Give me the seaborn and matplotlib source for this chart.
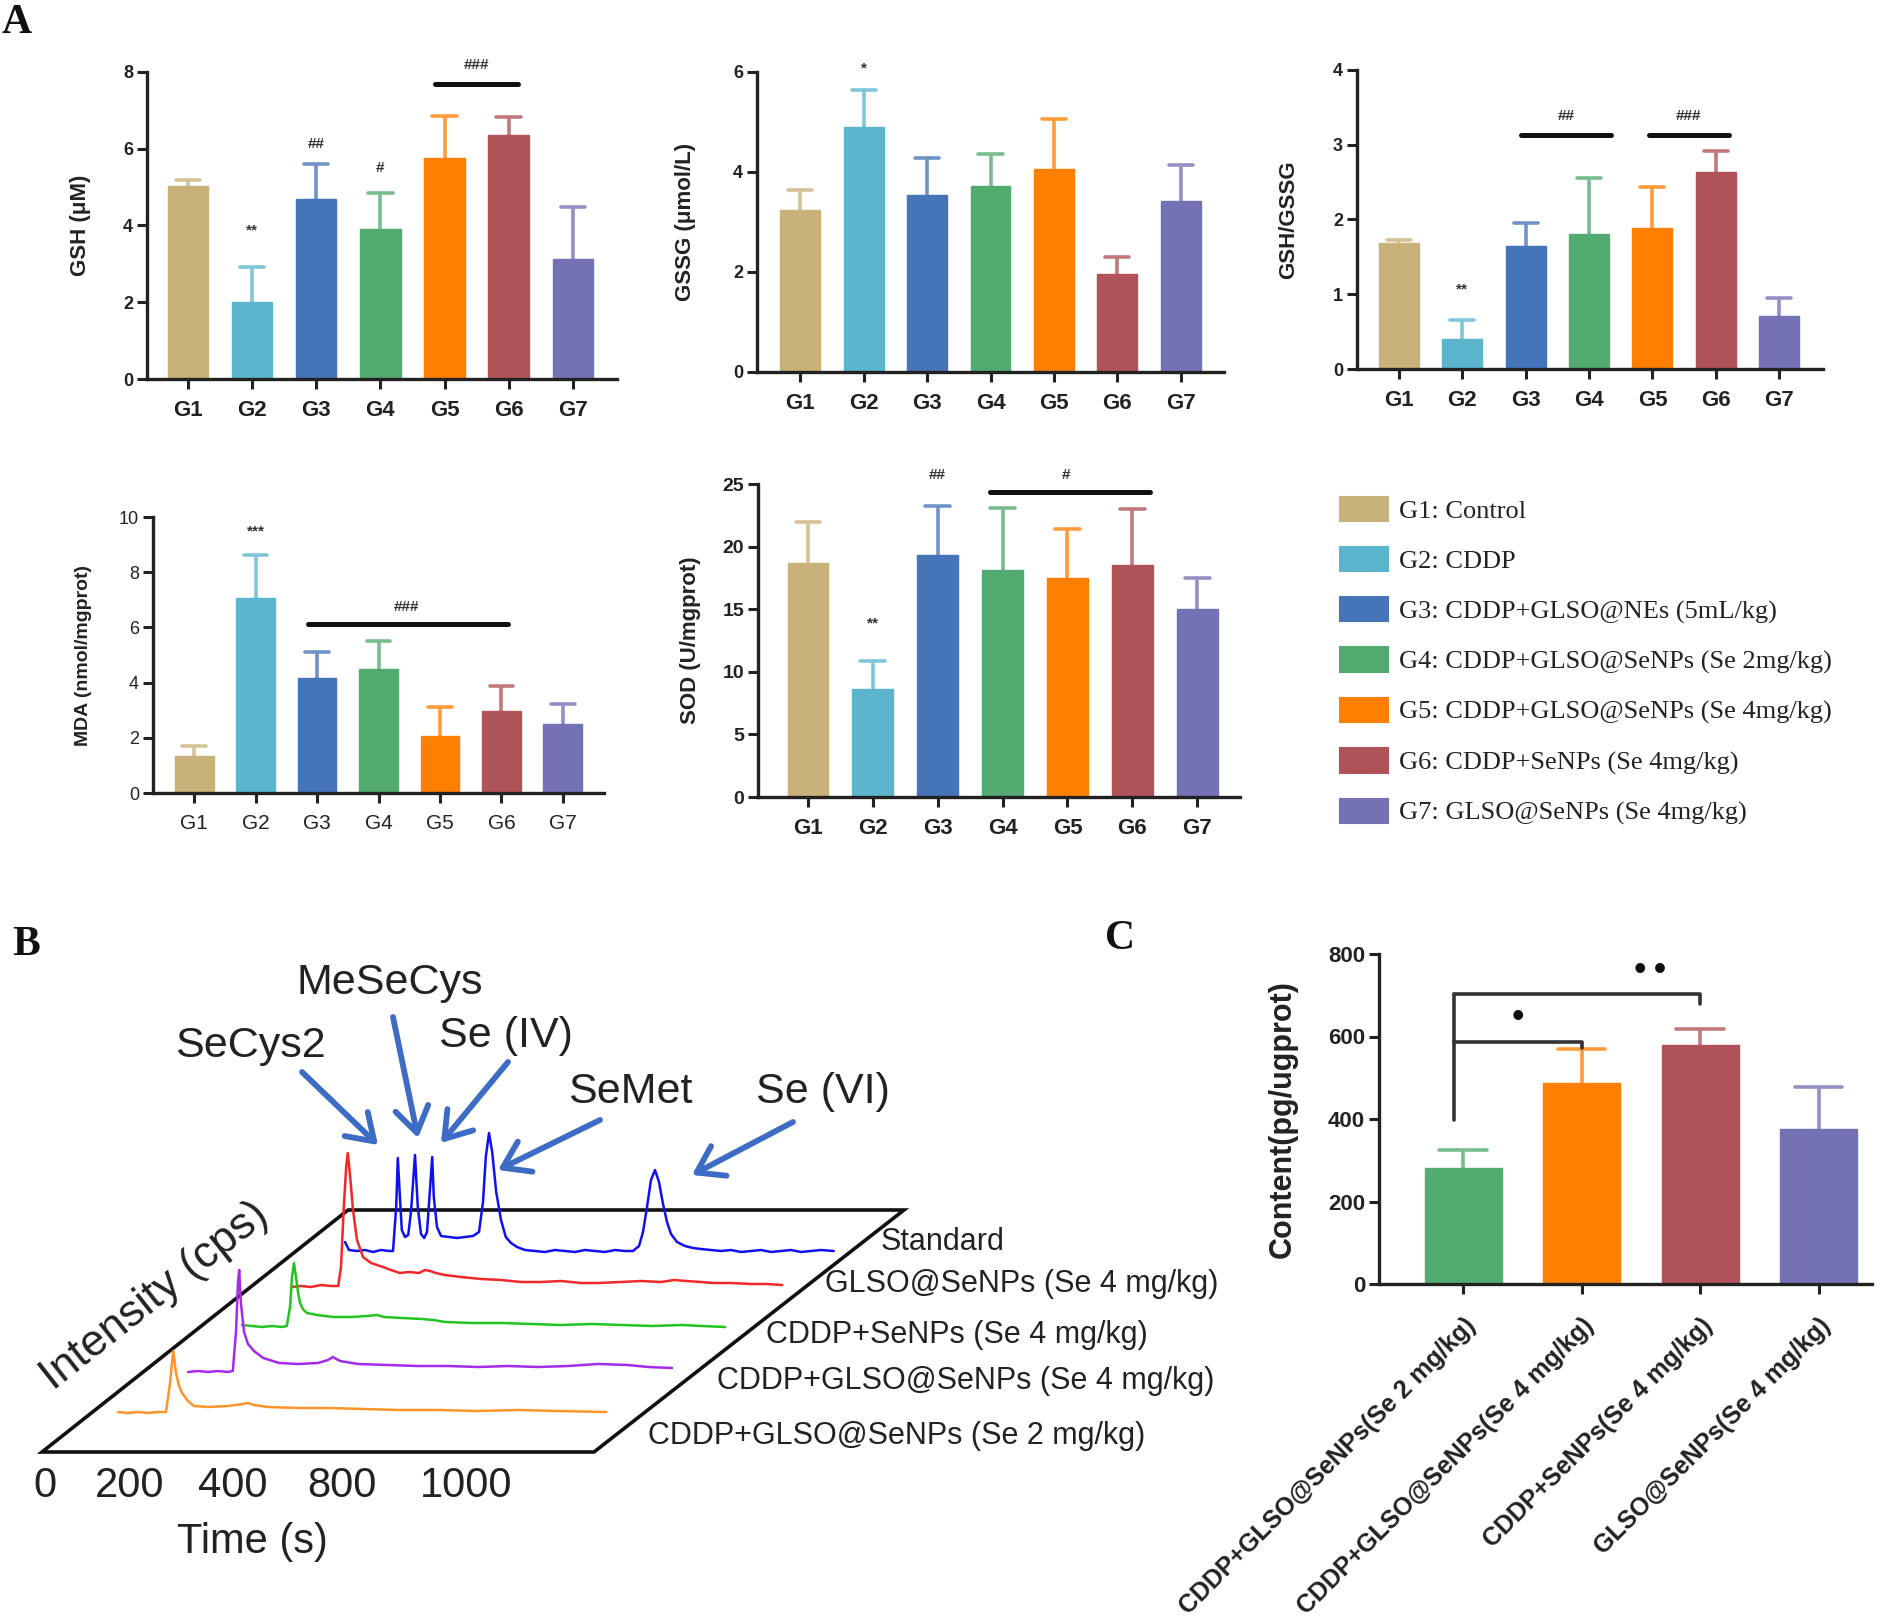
import numpy as np
import pandas as pd
import matplotlib
matplotlib.use("Agg")
import matplotlib.pyplot as plt
import seaborn as sns
from matplotlib.patches import Patch, Polygon
from matplotlib.colors import to_rgb

sns.set_theme(style="ticks")
plt.rcParams["font.family"] = ["Liberation Sans", "DejaVu Sans"]

# ------------------------------------------------------------------ data
groups = ["G1", "G2", "G3", "G4", "G5", "G6", "G7"]
group_colors = ["#C8B27A", "#5BB6CD", "#4575B8", "#52AB70", "#FF7F00", "#B05358", "#7571B5"]
legend_labels = ["G1: Control", "G2: CDDP", "G3: CDDP+GLSO@NEs (5mL/kg)",
                 "G4: CDDP+GLSO@SeNPs (Se 2mg/kg)", "G5: CDDP+GLSO@SeNPs (Se 4mg/kg)",
                 "G6: CDDP+SeNPs (Se 4mg/kg)", "G7: GLSO@SeNPs (Se 4mg/kg)"]

gsh_mean = [5.02, 2.01, 4.69, 3.90, 5.76, 6.35, 3.14]
gsh_sd = [0.16, 0.91, 0.90, 0.95, 1.09, 0.48, 1.33]
gssg_mean = [3.24, 4.90, 3.53, 3.71, 4.05, 1.96, 3.41]
gssg_sd = [0.39, 0.74, 0.74, 0.64, 1.00, 0.33, 0.72]
ratio_mean = [1.68, 0.40, 1.65, 1.81, 1.88, 2.63, 0.71]
ratio_sd = [0.05, 0.25, 0.30, 0.75, 0.55, 0.28, 0.24]
mda_mean = [1.33, 7.07, 4.16, 4.49, 2.05, 2.98, 2.49]
mda_sd = [0.36, 1.54, 0.94, 1.02, 1.05, 0.91, 0.73]
sod_mean = [18.68, 8.59, 19.34, 18.14, 17.53, 18.54, 15.02]
sod_sd = [3.32, 2.31, 3.93, 4.94, 3.89, 4.46, 2.46]

c_labels = ["CDDP+GLSO@SeNPs(Se 2 mg/kg)", "CDDP+GLSO@SeNPs(Se 4 mg/kg)",
            "CDDP+SeNPs(Se 4 mg/kg)", "GLSO@SeNPs(Se 4 mg/kg)"]
c_colors = ["#52AB70", "#FF7F00", "#B05358", "#7571B5"]
c_mean = [281, 488, 580, 376]
c_sd = [43, 81, 39, 101]

# chromatograms (time in s, intensity in cps)
trace_names = ["Standard", "GLSO@SeNPs (Se 4 mg/kg)", "CDDP+SeNPs (Se 4 mg/kg)",
               "CDDP+GLSO@SeNPs (Se 4 mg/kg)", "CDDP+GLSO@SeNPs (Se 2 mg/kg)"]
trace_colors = ["#1010F0", "#F02828", "#22C422", "#A52BE8", "#FF9428"]
std_time = [0, 10, 30, 50, 70, 90, 110, 120, 128, 132, 138, 142, 150, 158, 165, 175, 182, 190, 198, 205,
            212, 218, 222, 230, 240, 260, 280, 300, 320, 335, 345, 352, 360, 368, 378, 390, 402, 415, 430, 450,
            475, 500, 525, 550, 575, 600, 625, 650, 675, 700, 720, 735, 745, 755, 765, 775, 785, 795, 805, 815,
            830, 850, 870, 890, 915, 940, 965, 990, 1015, 1040, 1065, 1090, 1115, 1140, 1165, 1190, 1222]
std_cps = [1000, 200, 100, 200, 0, 200, 100, 100, 4500, 9400, 5000, 2200, 1500, 1700, 4000, 9700, 4500, 1800, 1400, 2000,
           6000, 9500, 5500, 2500, 1600, 1500, 1400, 1500, 1600, 2000, 5000, 9500, 11900, 10000, 6000, 3200, 1500, 900, 500, 200,
           100, 0, 200, 100, 0, 200, 100, 0, 200, 100, 100, 600, 2000, 4500, 7200, 8200, 7000, 4800, 3000, 1800,
           1000, 600, 400, 300, 200, 100, 200, 0, 100, 200, 0, 100, 200, 0, 100, 200, 100]
g7_time = [0, 25, 50, 75, 100, 118, 125, 132, 138, 142, 148, 155, 165, 180, 200, 230, 250, 272, 295, 320,
           335, 348, 362, 385, 425, 475, 525, 575, 625, 675, 725, 768, 825, 875, 925, 958, 988, 1025, 1055, 1100,
           1150, 1188, 1228]
g7_cps = [0, 100, 0, 200, 100, 100, 2000, 8000, 12000, 13400, 11000, 7700, 4700, 3000, 2400, 2000, 1700, 1400, 1500, 1400,
          1700, 1600, 1400, 1200, 1000, 800, 700, 500, 500, 600, 400, 400, 500, 600, 500, 700, 600, 500, 400, 400,
          300, 300, 200]
g6_time = [0, 25, 50, 75, 100, 112, 120, 125, 130, 135, 140, 145, 152, 162, 188, 228, 275, 312, 338, 355,
           400, 450, 478, 508, 575, 650, 725, 795, 875, 950, 1025, 1100, 1150, 1208]
g6_cps = [200, 100, 0, 100, 0, 100, 2000, 5000, 6400, 5000, 3500, 2400, 1800, 1400, 1200, 1000, 1000, 1100, 1200, 1000,
          900, 800, 700, 500, 400, 400, 300, 200, 300, 200, 100, 200, 100, 0]
g5_time = [0, 25, 50, 75, 100, 112, 120, 125, 128, 132, 140, 150, 165, 188, 228, 275, 325, 350, 362, 380,
           425, 500, 575, 650, 725, 800, 875, 950, 1025, 1100, 1150, 1210]
g5_cps = [0, 100, 0, 100, 0, 100, 4000, 9000, 10200, 7000, 4000, 2800, 2100, 1400, 900, 800, 900, 1200, 1500, 1100,
          800, 700, 600, 600, 500, 600, 500, 600, 800, 700, 500, 400]
g4_time = [0, 25, 50, 75, 100, 120, 130, 138, 145, 152, 160, 175, 190, 225, 275, 312, 325, 340, 375, 450,
           525, 615, 700, 800, 900, 1000, 1100, 1220]
g4_cps = [100, 0, 100, 0, 100, 100, 3000, 6200, 4000, 2800, 2000, 1200, 700, 600, 700, 900, 1000, 800, 600, 500,
          500, 400, 300, 300, 200, 300, 200, 100]
trace_times = [std_time, g7_time, g6_time, g5_time, g4_time]
trace_cps = [std_cps, g7_cps, g6_cps, g5_cps, g4_cps]
peak_names = ["SeCys2", "MeSeCys", "Se (IV)", "SeMet", "Se (VI)"]
time_ticks = ["0", "200", "400", "800", "1000"]

# ------------------------------------------------------------------ figure
W, H = 1900, 1617
fig = plt.figure(figsize=(19, 16.17), dpi=100)


def px_axes(x0, y0, x1, y1, **kw):
    return fig.add_axes([x0 / W, 1 - y1 / H, (x1 - x0) / W, (y1 - y0) / H], **kw)


def lighten(c, f=0.22):
    r, g, b = to_rgb(c)
    return (r + (1 - r) * f, g + (1 - g) * f, b + (1 - b) * f)


def bar_panel(ax, cats, means, sds, cols, ylim, yticks, ylabel, xlim, label_x,
              tick_fs=16, ytick_fs=13, ylab_fs=16, weight="bold", cap=0.19, width=0.63):
    df = pd.DataFrame({"g": cats, "v": means})
    sns.barplot(data=df, x="g", y="v", hue="g", palette=dict(zip(cats, cols)), legend=False,
                width=width, saturation=1, ax=ax, linewidth=1.0, zorder=2)
    for p, c in zip(ax.patches, cols):
        p.set_edgecolor(c)
    for i, (m, s, c) in enumerate(zip(means, sds, cols)):
        ec = lighten(c)
        ax.plot([i, i], [m, m + s], color=ec, lw=2.6, zorder=1, solid_capstyle="butt")
        ax.plot([i - cap, i + cap], [m + s, m + s], color=ec, lw=2.6, zorder=1)
    ax.set_xlim(xlim)
    ax.set_ylim(ylim)
    ax.set_yticks(yticks)
    ax.set_xlabel("")
    ax.set_ylabel(ylabel, fontsize=ylab_fs, fontweight="bold", color="#222")
    ax.yaxis.set_label_coords(label_x, 0.5)
    sns.despine(ax=ax)
    for sp in ("left", "bottom"):
        ax.spines[sp].set_linewidth(2.4)
        ax.spines[sp].set_color("#222")
    ax.tick_params(axis="both", width=2.2, length=7, color="#222")
    ax.tick_params(axis="x", labelsize=tick_fs, pad=8)
    ax.tick_params(axis="y", labelsize=ytick_fs, pad=3)
    for t in ax.get_xticklabels() + ax.get_yticklabels():
        t.set_fontweight(weight)
        t.set_color("#222")
    ax.patch.set_alpha(0)


def sig_line(ax, x0, x1, y, txt, ty, tx=None, fs=11):
    ax.plot([x0, x1], [y, y], color="#111", lw=3.6, zorder=3)
    ax.text((x0 + x1) / 2 if tx is None else tx, ty, txt, ha="center", va="center",
            fontsize=fs, fontweight="bold", color="#333")


def sig_text(ax, x, y, txt, fs=11):
    ax.text(x, y, txt, ha="center", va="center", fontsize=fs, fontweight="bold", color="#333")


# ---------------- panel B (pixel canvas)
axb = fig.add_axes([0, 0, 1, 1])
plane = Polygon([(42, 1452), (594, 1452), (904, 1210), (348, 1210)], closed=True,
                fill=False, edgecolor="#111", lw=2.6, zorder=1)
axb.add_patch(plane)

trace_origin = [(345, 1252), (291, 1287), (242, 1327), (188, 1372), (118, 1413)]
PX_PER_S = 0.4
PX_PER_CPS = 0.01
for tt, cc, col, (ox, oy) in zip(trace_times, trace_cps, trace_colors, trace_origin):
    xs = ox + np.asarray(tt) * PX_PER_S
    ys = oy - np.asarray(cc) * PX_PER_CPS
    sns.lineplot(x=xs, y=ys, sort=False, estimator=None, color=col, lw=1.8, ax=axb, zorder=2)
axb.set_xlim(0, W)
axb.set_ylim(H, 0)
axb.axis("off")

label_pos = [(881, 1242), (825, 1284), (766, 1335), (717, 1381), (648, 1436)]
for name, (lx, ly) in zip(trace_names, label_pos):
    axb.text(lx, ly, name, ha="left", va="center", fontsize=22, color="#222")

peak_label_pos = [(250, 1057), (390, 994), (506, 1047), (630, 1103), (823, 1103)]
for name, (lx, ly) in zip(peak_names, peak_label_pos):
    axb.text(lx, ly, name, ha="center", va="baseline", fontsize=31, color="#222")

arrows = [((302, 1072), (378, 1145)), ((393, 1017), (418, 1138)), ((508, 1062), (441, 1143)),
          ((600, 1120), (498, 1170)), ((793, 1122), (692, 1175))]
for tail, tip in arrows:
    axb.annotate("", xy=tip, xytext=tail,
                 arrowprops=dict(arrowstyle="->,head_length=0.45,head_width=0.3", lw=4.2,
                                 color="#3D6CC4", shrinkA=0, shrinkB=0, mutation_scale=40))

tick_px = [45, 130, 233, 342, 466]
for lab, tx in zip(time_ticks, tick_px):
    axb.text(tx, 1486, lab, ha="center", va="center", fontsize=30, color="#222")
axb.text(252, 1542, "Time (s)", ha="center", va="center", fontsize=30, color="#222")
axb.text(155, 1296, "Intensity (cps)", ha="center", va="center", fontsize=32, color="#222",
         rotation=38.3, rotation_mode="anchor")

# panel letters
for letter, (lx, ly) in zip(["A", "B", "C"], [(2, 4), (12, 926), (1105, 920)]):
    axb.text(lx, ly, letter, ha="left", va="top", fontsize=30, fontweight="bold",
             family=["Liberation Serif", "DejaVu Serif"], color="#111")

# ---------------- panel A
ax1 = px_axes(147, 72, 617, 379)
bar_panel(ax1, groups, gsh_mean, gsh_sd, group_colors, (0, 8), [0, 2, 4, 6, 8], "GSH (\u03bcM)",
          (-0.64, 6.69), -0.12)
sig_text(ax1, 1, 3.88, "**")
sig_text(ax1, 2, 6.12, "##")
sig_text(ax1, 3, 5.5, "#")
sig_line(ax1, 3.85, 5.14, 7.7, "###", 8.17)

ax2 = px_axes(757, 72, 1224, 372)
bar_panel(ax2, groups, gssg_mean, gssg_sd, group_colors, (0, 6), [0, 2, 4, 6], "GSSG (\u03bcmol/L)",
          (-0.68, 6.68), -0.13)
sig_text(ax2, 1, 6.07, "*")

ax3 = px_axes(1357, 70, 1823, 369)
bar_panel(ax3, groups, ratio_mean, ratio_sd, group_colors, (0, 4), [0, 1, 2, 3, 4], "GSH/GSSG",
          (-0.66, 6.69), -0.125)
sig_text(ax3, 1, 1.07, "**")
sig_line(ax3, 1.93, 3.34, 3.13, "##", 3.38)
sig_line(ax3, 3.94, 5.21, 3.13, "###", 3.38)

ax4 = px_axes(153, 517, 604, 793)
bar_panel(ax4, groups, mda_mean, mda_sd, group_colors, (0, 10), [0, 2, 4, 6, 8, 10],
          "MDA (nmol/mgprot)", (-0.67, 6.67), -0.135, tick_fs=15, ytick_fs=13, ylab_fs=14,
          weight="normal")
sig_text(ax4, 1, 9.46, "***")
sig_line(ax4, 1.85, 5.11, 6.14, "###", 6.75, tx=3.45)

ax5 = px_axes(758, 484, 1240, 797)
bar_panel(ax5, groups, sod_mean, sod_sd, group_colors, (0, 25), [0, 5, 10, 15, 20, 25],
          "SOD (U/mgprot)", (-0.77, 6.66), -0.118, ytick_fs=14)
sig_text(ax5, 1, 13.9, "**")
sig_text(ax5, 2, 25.7, "##")
sig_line(ax5, 2.8, 5.28, 24.33, "#", 25.7, tx=3.98)

handles = [Patch(facecolor=c, edgecolor=c, linewidth=1.5) for c in group_colors]
fig.legend(handles, legend_labels, loc="upper left", bbox_to_anchor=(1340 / W, 1 - 497 / H),
           frameon=False, prop={"family": "Liberation Serif", "size": 19},
           handlelength=1.8, handleheight=1.05, handletextpad=0.42, labelspacing=0.9,
           borderpad=0, borderaxespad=0, labelcolor="#222")

# ---------------- panel C
axc = px_axes(1379, 954, 1872, 1284)
bar_panel(axc, c_labels, c_mean, c_sd, c_colors, (0, 800), [0, 200, 400, 600, 800],
          "Content(pg/ugprot)", (-0.71, 3.45), -0.165, ytick_fs=16, ylab_fs=22, cap=0.2, width=0.65)
axc.set_xticks(range(4))
axc.set_xticklabels(c_labels, rotation=45, ha="right", va="top", rotation_mode="anchor",
                    fontsize=18, fontweight="bold", color="#222")
axc.tick_params(axis="x", pad=14)
# brackets
axc.plot([-0.08, -0.08], [398, 703], color="#333", lw=2.6)
axc.plot([-0.08, 1.0, 1.0], [587, 587, 571], color="#333", lw=2.6)
axc.plot([-0.08, 2.0, 2.0], [703, 703, 679], color="#333", lw=2.6)
axc.text(0.46, 647, "\u2022", ha="center", va="center", fontsize=26, color="#111")
axc.text(1.58, 760, "\u2022\u2009\u2022", ha="center", va="center", fontsize=26, color="#111")

fig.savefig("out.png", dpi=100)
